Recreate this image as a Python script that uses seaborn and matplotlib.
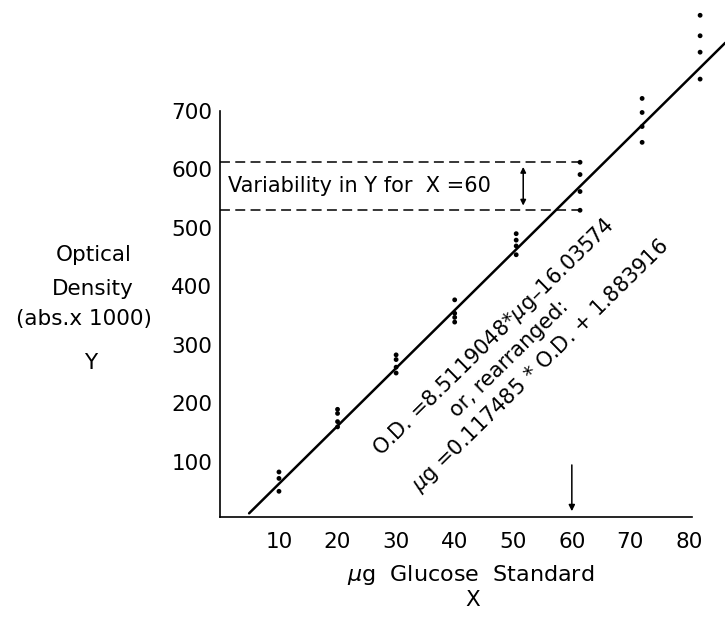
import matplotlib
matplotlib.use("Agg")
import matplotlib.pyplot as plt
import pandas as pd
import seaborn as sns

# Glucose standards (µg) and replicate optical density readings (abs. x 1000)
glucose_ug = [10, 20, 30, 40, 50.5, 61.4, 72, 81.9]
optical_density = [
    [83, 72, 50],
    [190, 183, 169, 160],
    [283, 275, 262, 252],
    [377, 354, 347, 339],
    [490, 479, 469, 454],
    [612, 591, 562, 530],
    [721, 697, 673, 646],
    [863, 828, 800, 754],
]
# End points of the fitted calibration line
fit_x = [4.9, 86.2]
fit_y = [12.4, 816]

x_ticks = [10, 20, 30, 40, 50, 60, 70, 80]
y_ticks = [100, 200, 300, 400, 500, 600, 700]
x_focus = 60
focus_group = 5

equation_lines = [
    ("O.D. =8.5119048*$\\mu$g\u201316.03574", 46.6, 313),
    ("or, rearranged:", 49.3, 277),
    ("$\\mu$g =0.117485 * O.D. + 1.883916", 54.7, 265),
]

records = [(x, y) for x, ys in zip(glucose_ug, optical_density) for y in ys]
points = pd.DataFrame(records, columns=["ug", "od"])
fit = pd.DataFrame({"ug": fit_x, "od": fit_y})

sns.set_theme(style="white")
plt.rcParams["font.family"] = ["DejaVu Sans"]
plt.rcParams["mathtext.fontset"] = "dejavusans"
for key in ("text.color", "axes.labelcolor", "xtick.color", "ytick.color"):
    plt.rcParams[key] = "black"

fig = plt.figure(figsize=(7.25, 6.27), dpi=100)
ax = fig.add_axes([0.304, 0.1754, 0.696, 0.8246])

sns.lineplot(data=fit, x="ug", y="od", color="black", linewidth=1.8, ax=ax)
sns.scatterplot(data=points, x="ug", y="od", color="black", s=12,
                edgecolor="none", ax=ax, zorder=3)

# Spread of replicate readings at the X = 60 standard
hi = max(optical_density[focus_group])
lo = min(optical_density[focus_group])
xr = glucose_ug[focus_group]
for yv in (hi, lo):
    ax.plot([0, xr], [yv, yv], color="black", linewidth=1.1,
            dashes=(6.5, 3.5), clip_on=False)
ax.annotate("", xy=(51.7, hi - 8), xytext=(51.7, lo + 8),
            arrowprops=dict(arrowstyle="<|-|>", color="black", lw=1.1,
                            mutation_scale=8, shrinkA=0, shrinkB=0))
ax.text(1.3, (hi + lo) / 2, "Variability in Y for  X =60", fontsize=15,
        ha="left", va="center")

# Pointer down to the X = 60 standard
ax.annotate("", xy=(x_focus, 16), xytext=(x_focus, 95),
            arrowprops=dict(arrowstyle="-|>", color="black", lw=1.1,
                            mutation_scale=9, shrinkA=0, shrinkB=0))

for text, tx, ty in equation_lines:
    ax.text(tx, ty, text, fontsize=15, rotation=44.5,
            rotation_mode="anchor", ha="center", va="center")

ax.set_xlim(0, 86.15)
ax.set_ylim(6.06, 889.1)
ax.set_xticks(x_ticks)
ax.set_yticks(y_ticks)
ax.set_xlabel("")
ax.set_ylabel("")
for side in ("top", "right"):
    ax.spines[side].set_visible(False)
for side in ("left", "bottom"):
    ax.spines[side].set_color("black")
    ax.spines[side].set_linewidth(1.2)
ax.spines["left"].set_bounds(6.06, 700)
ax.spines["bottom"].set_bounds(0, 80.5)
ax.tick_params(axis="both", direction="in", length=4, width=1.1,
               colors="black", labelsize=15.5)
ax.tick_params(axis="x", pad=11)
ax.tick_params(axis="y", pad=6)

fig.text(471 / 725, 1 - 575 / 627, "$\\mu$g  Glucose  Standard", fontsize=16,
         ha="center", va="center")
fig.text(473 / 725, 1 - 600 / 627, "X", fontsize=15.5, ha="center", va="center")
for label, xc, yc in [("Optical", 94, 255), ("Density", 93, 289),
                      ("(abs.x 1000)", 84, 319), ("Y", 91, 363)]:
    fig.text(xc / 725, 1 - yc / 627, label, fontsize=15.5,
             ha="center", va="center")

fig.savefig("out.png", dpi=100)
